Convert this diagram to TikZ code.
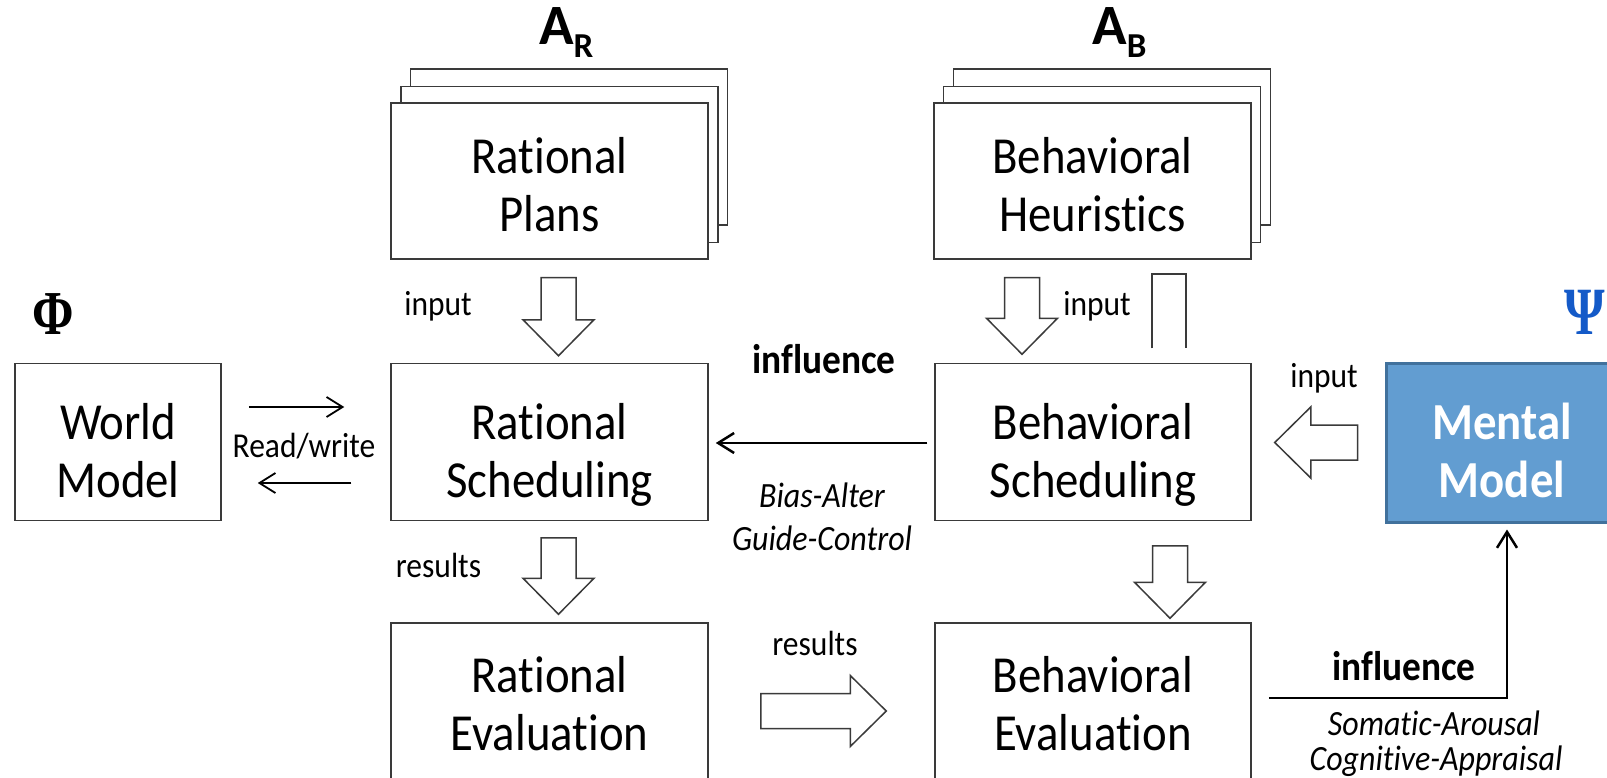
\documentclass[tikz,border=0pt]{standalone}
\usepackage{fontspec}
\setmainfont{Carlito}[FakeStretch=0.9, Ligatures=NoCommon]
\newfontfamily\headfont{Carlito}[Ligatures=NoCommon]
\newfontfamily\greekserif{Liberation Serif}
\usetikzlibrary{arrows.meta,calc}

\definecolor{boxline}{HTML}{3A3A3A}
\definecolor{mentalfill}{HTML}{629DD1}
\definecolor{mentalline}{HTML}{41719C}
\definecolor{psiblue}{RGB}{20,90,200}

% hollow block arrow dimensions
\newcommand\bshaft{17.5pt}
\newcommand\bhead{35.5pt}
\newcommand\blen{36pt}

% two centred lines with fixed struts so every box places its text alike;
% the optional argument sets the top strut and so the vertical placement
\newcommand\twolines[3][64pt]{\rule{0pt}{#1}#2\\#3\rule[-12pt]{0pt}{12pt}}

% hollow block arrows: #1 = tail coordinate, #2 = tip coordinate
\newcommand\blkdown[2]{\draw[blockarrow] let \p1=(#1), \p2=(#2) in
  (\x1-\bshaft,\y1) -- (\x1-\bshaft,\y2+\blen) -- (\x1-\bhead,\y2+\blen) -- (\x1,\y2)
  -- (\x1+\bhead,\y2+\blen) -- (\x1+\bshaft,\y2+\blen) -- (\x1+\bshaft,\y1) -- cycle;}
\newcommand\blkright[2]{\draw[blockarrow] let \p1=(#1), \p2=(#2) in
  (\x1,\y1+\bshaft) -- (\x2-\blen,\y1+\bshaft) -- (\x2-\blen,\y1+\bhead) -- (\x2,\y1)
  -- (\x2-\blen,\y1-\bhead) -- (\x2-\blen,\y1-\bshaft) -- (\x1,\y1-\bshaft) -- cycle;}
\newcommand\blkleft[2]{\draw[blockarrow] let \p1=(#1), \p2=(#2) in
  (\x1,\y1+\bshaft) -- (\x2+\blen,\y1+\bshaft) -- (\x2+\blen,\y1+\bhead) -- (\x2,\y1)
  -- (\x2+\blen,\y1-\bhead) -- (\x2+\blen,\y1-\bshaft) -- (\x1,\y1-\bshaft) -- cycle;}

\tikzset{
  box/.style={draw=boxline, line width=1.5pt, fill=white, minimum width=317pt,
    minimum height=156pt, inner sep=0pt, align=center,
    font=\fontsize{52}{58}\selectfont},
  stackbox/.style={draw=boxline, line width=1.5pt, fill=white, minimum width=317pt,
    minimum height=156pt, inner sep=0pt},
  mentalbox/.style={box, draw=mentalline, line width=3pt, fill=mentalfill,
    text=white, font=\fontsize{52}{58}\selectfont\bfseries},
  lbl/.style={inner sep=0pt, anchor=base, font=\fontsize{35}{40}\selectfont},
  lblit/.style={lbl, font=\fontsize{35.5}{40}\selectfont\itshape},
  lblbf/.style={lbl, font=\fontsize{41.5}{46}\selectfont\bfseries},
  heading/.style={inner sep=0pt, anchor=base west, font=\headfont\bfseries},
  blockarrow/.style={draw=boxline, line width=1.5pt, fill=white, line join=miter},
  thinarrow/.style={draw=black, line width=1.8pt, -{Straight Barb[length=16pt,width=20pt]}},
  boldarrow/.style={thinarrow, line width=2.5pt},
}

\begin{document}
\begin{tikzpicture}[x=1pt, y=-1pt]
  \useasboundingbox (0,0) rectangle (1607,778);
  \fill[white] (0,0) rectangle (1607,778);
  \clip (0,0) rectangle (1607,778);

  % stacked plan and heuristic libraries
  \node[stackbox] (plansB) at (569,147) {};
  \node[stackbox] (plansM) at (559.5,164.5) {};
  \node[box] (plans) at (549.5,181) {\twolines[55pt]{Rational}{Plans}};
  \node[stackbox] (heurB) at (1112,147) {};
  \node[stackbox] (heurM) at (1102,164.5) {};
  \node[box] (heur) at (1092.5,181) {\twolines[55pt]{Behavioral}{Heuristics}};

  % headings
  \node[heading] (ar) at (539,45)
    {\fontsize{57}{57}\selectfont A\raisebox{-13pt}{\fontsize{35}{35}\selectfont R}};
  \node[heading] (ab) at (1092,45)
    {\fontsize{57}{57}\selectfont A\raisebox{-13pt}{\fontsize{35}{35}\selectfont B}};
  \node[inner sep=0pt, anchor=base, font=\greekserif\bfseries\fontsize{50}{50}\selectfont]
    (phi) at (53.5,334) {\scalebox{1}[1.25]{Φ}};
  \node[inner sep=0pt, anchor=base, text=psiblue,
    font=\greekserif\bfseries\fontsize{52}{52}\selectfont]
    (psi) at (1584.5,334) {\scalebox{1}[1.3]{Ψ}};

  % middle row
  \node[box, minimum width=206pt, minimum height=157pt] (world) at (118,442)
    {\twolines{World}{Model}};
  \node[box, minimum height=157pt] (rsched) at (549.5,442)
    {\twolines{Rational}{Scheduling}};
  \node[box, minimum width=316pt, minimum height=157pt] (bsched) at (1093,442)
    {\twolines{Behavioral}{Scheduling}};
  \node[mentalbox, minimum width=232pt, minimum height=159pt] (mental) at (1502,442.5)
    {\twolines{Mental}{Model}};

  % bottom row
  \node[box, minimum height=158pt] (reval) at (549.5,702)
    {\twolines[50pt]{Rational}{Evaluation}};
  \node[box, minimum width=316pt, minimum height=158pt] (beval) at (1093,702)
    {\twolines[50pt]{Behavioral}{Evaluation}};

  % block arrow end points
  \coordinate (p2rs) at ([xshift=9pt,yshift=-18pt]plans.south);
  \coordinate (p2rt) at ([xshift=9pt,yshift=7pt]rsched.north);
  \coordinate (r2es) at ([xshift=9pt,yshift=-16.5pt]rsched.south);
  \coordinate (r2et) at ([xshift=9pt,yshift=8pt]reval.north);
  \coordinate (h2bs) at ([xshift=-70.5pt,yshift=-18pt]heur.south);
  \coordinate (h2bt) at ([xshift=-71pt,yshift=8.5pt]bsched.north);
  \coordinate (b2es) at ([xshift=77pt,yshift=-24.5pt]bsched.south);
  \coordinate (b2et) at ([xshift=77pt,yshift=4pt]beval.north);
  \coordinate (m2bs) at ([xshift=-27pt]mental.west);
  \coordinate (m2bt) at ([xshift=23pt,yshift=-0.5pt]bsched.east);
  \coordinate (e2es) at ([xshift=52pt,yshift=-9pt]reval.east);
  \coordinate (e2et) at ([xshift=-48pt,yshift=-9pt]beval.west);

  \blkdown{p2rs}{p2rt}
  \blkdown{r2es}{r2et}
  \blkdown{h2bs}{h2bt}
  \blkdown{b2es}{b2et}
  \blkleft{m2bs}{m2bt}
  \blkright{e2es}{e2et}

  % open shaft rising from behavioral scheduling
  \coordinate (shl) at ([xshift=59pt,yshift=14.5pt]bsched.north);
  \coordinate (shr) at ([xshift=93pt,yshift=14.5pt]bsched.north);
  \draw[boxline, line width=1.5pt, line join=miter]
    (shl) -- ++(0,-74) -- ([yshift=74pt]shr) -- (shr);

  % thin connectors
  \draw[thinarrow, shorten <=27pt, shorten >=46pt]
    ([yshift=35pt]world.east) -- ([yshift=35pt]rsched.west);
  \draw[thinarrow, shorten <=39pt, shorten >=36pt]
    ([yshift=-41pt]rsched.west) -- ([yshift=-41pt]world.east);
  \draw[boldarrow, shorten <=7pt, shorten >=7pt]
    ([yshift=-1pt]bsched.west) -- ([yshift=-1pt]rsched.east);
  \draw[boldarrow, shorten >=6pt]
    ([xshift=17pt,yshift=4pt]beval.east) -| ([xshift=5pt]mental.south);

  % labels
  \node[lbl] (in1) at (438,315) {input};
  \node[lbl] (in2) at (1097,315) {input};
  \node[lbl] (in3) at (1324,387) {input};
  \node[lbl] (rw) at (304,457) {Read/write};
  \node[lbl] (res1) at (438.5,577) {results};
  \node[lbl] (res2) at (815,655) {results};
  \node[lblbf] (inf1) at (824,373) {influence};
  \node[lblit] (ba) at (822,507) {Bias-Alter};
  \node[lblit] (gc) at (822,550) {Guide-Control};
  \node[lblbf] (inf2) at (1404,680) {influence};
  \node[lblit] (sa) at (1434,735) {Somatic-Arousal};
  \node[lblit] (ca) at (1436,770) {Cognitive-Appraisal};
\end{tikzpicture}
\end{document}
